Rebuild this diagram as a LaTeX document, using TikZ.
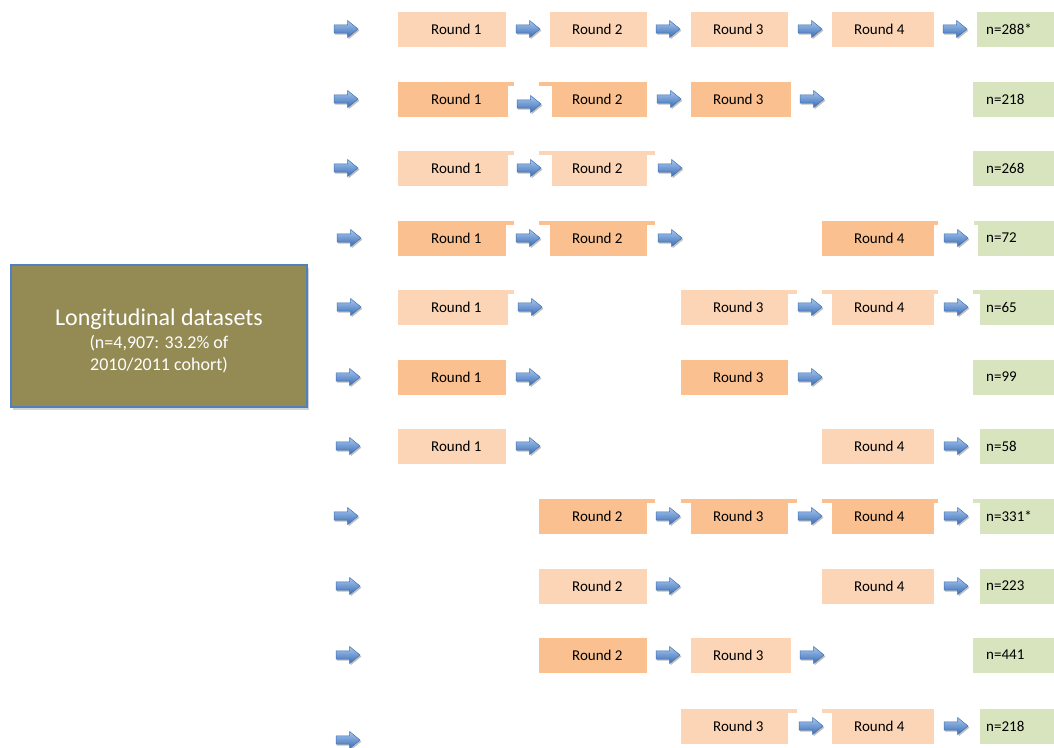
\documentclass[tikz,border=0pt]{standalone}
\usepackage{fontspec}
\setmainfont{Carlito}
\usetikzlibrary{shadows}
\definecolor{lpeach}{HTML}{FBD5B5}
\definecolor{dpeach}{HTML}{FAC090}
\definecolor{ngreen}{HTML}{D7E4BD}
\definecolor{olivebox}{HTML}{948A54}
\definecolor{oblue}{HTML}{4F81BD}
\definecolor{arrtop}{HTML}{A8C8F0}
\definecolor{arrmid}{HTML}{5A8FD6}
\definecolor{arrbot}{HTML}{3A6CB4}
\definecolor{arredge}{HTML}{3E70B2}
\tikzset{
  rbox/.style={draw=none, minimum height=35pt, inner xsep=0pt, inner ysep=0pt, anchor=west, font=\fontsize{15}{18}\selectfont},
  lightbox/.style={rbox, fill=lpeach},
  darkbox/.style={rbox, fill=dpeach},
  nboxst/.style={rbox, fill=ngreen},
}
% round box: style, name, x1, x2, y, text, text-left
\newcommand\rb[7]{%
  \pgfmathsetmacro\bw{#4-#3}\pgfmathsetmacro\bo{#7-#3}%
  \node[#1] (#2) at (#3,#5) {\makebox[\bw pt][l]{\hspace*{\bo pt}#6}};}
% n box: name, x1, y, text
\newcommand\nb[4]{%
  \pgfmathsetmacro\bw{1054-#2}\pgfmathsetmacro\bo{986-#2}%
  \node[nboxst] (#1) at (#2,#3) {\makebox[\bw pt][l]{\hspace*{\bo pt}#4}};}
% white frame behind an arrow: x1, x2, row y
\newcommand\wf[3]{\fill[white] (#1,#3-13.5) rectangle (#2,#3+19);}
% block arrow: left x, centre y
\newcommand\ba[2]{%
  \begin{scope}[shift={(#1,#2)}]
    \fill[black,opacity=.25] (1.2,-2.5) -- (14.7,-2.5) -- (14.7,-7) -- (25.4,1.6) -- (14.7,10.2) -- (14.7,5.7) -- (1.2,5.7) -- cycle;
    \shade[top color=arrtop, middle color=arrmid, bottom color=arrbot, draw=arredge, line width=.5pt]
      (0,-4.1) -- (13.5,-4.1) -- (13.5,-8.6) -- (24,0) -- (13.5,8.6) -- (13.5,4.1) -- (0,4.1) -- cycle;
  \end{scope}}
\begin{document}
\begin{tikzpicture}[x=1pt,y=-1pt]
\useasboundingbox (0,0) rectangle (1054,747);
% main box
\node[draw=oblue, line width=1.6pt, fill=olivebox, minimum width=296pt, minimum height=142pt,
      drop shadow={opacity=.35, shadow xshift=2pt, shadow yshift=-2.5pt}] (main) at (159,336) {};
\node[text=white, align=center, font=\fontsize{18}{22}\selectfont, inner sep=0pt] (maintext) at (159,341)
  {{\fontsize{24}{25}\selectfont Longitudinal datasets}\\[1pt](n=4,907: 33.2\% of\\2010/2011 cohort)};
% row 1
\rb{lightbox}{r1a}{398}{506}{29}{Round 1}{431}
\rb{lightbox}{r1b}{550}{647}{29}{Round 2}{572}
\rb{lightbox}{r1c}{691}{788}{29}{Round 3}{713}
\rb{lightbox}{r1d}{832}{934}{29}{Round 4}{854}
\nb{n1}{977}{29}{n=288*}
\ba{334}{29}\ba{516}{29}\ba{656}{29}\ba{798}{29}\ba{943}{29}
% row 2
\rb{darkbox}{r2a}{398}{514}{99}{Round 1}{431}
\rb{darkbox}{r2b}{539}{647}{99}{Round 2}{572}
\rb{darkbox}{r2c}{691}{791}{99}{Round 3}{713}
\nb{n2}{973}{99}{n=218}
\wf{508}{552}{99}
\ba{334}{99}\ba{517}{104}\ba{657}{99}\ba{800}{99}
% row 3
\rb{lightbox}{r3a}{398}{514}{168}{Round 1}{431}
\rb{lightbox}{r3b}{539}{655}{168}{Round 2}{572}
\nb{n3}{973}{168}{n=268}
\wf{508}{552}{168}\wf{647}{700}{168}
\ba{334}{168}\ba{517}{168}\ba{658}{168}
% row 4
\rb{darkbox}{r4a}{398}{514}{238}{Round 1}{431}
\rb{darkbox}{r4b}{539}{655}{238}{Round 2}{572}
\rb{darkbox}{r4d}{822}{938}{238}{Round 4}{854}
\nb{n4}{974}{238}{n=72}
\wf{506}{550}{238}\wf{647}{700}{238}\wf{934}{978}{238}
\ba{337}{238}\ba{516}{238}\ba{658}{238}\ba{944}{238}
% row 5
\rb{lightbox}{r5a}{398}{514}{307}{Round 1}{431}
\rb{lightbox}{r5c}{681}{797}{307}{Round 3}{713}
\rb{lightbox}{r5d}{822}{938}{307}{Round 4}{854}
\nb{n5}{973}{307}{n=65}
\wf{508}{560}{307}\wf{788}{832}{307}\wf{934}{980}{307}
\ba{337}{307}\ba{518}{307}\ba{798}{307}\ba{944}{307}
% row 6
\rb{darkbox}{r6a}{398}{506}{377}{Round 1}{431}
\rb{darkbox}{r6c}{681}{788}{377}{Round 3}{713}
\nb{n6}{973}{377}{n=99}
\ba{336}{377}\ba{516}{377}\ba{798}{377}
% row 7
\rb{lightbox}{r7a}{398}{506}{446}{Round 1}{431}
\rb{lightbox}{r7d}{822}{934}{446}{Round 4}{854}
\nb{n7}{980}{446}{n=58}
\ba{336}{446}\ba{516}{446}\ba{944}{446}
% row 8
\rb{darkbox}{r8b}{539}{655}{516}{Round 2}{572}
\rb{darkbox}{r8c}{681}{797}{516}{Round 3}{713}
\rb{darkbox}{r8d}{822}{938}{516}{Round 4}{854}
\nb{n8}{973}{516}{n=331*}
\wf{647}{691}{516}\wf{788}{832}{516}\wf{934}{980}{516}
\ba{334}{516}\ba{656}{516}\ba{798}{516}\ba{944}{516}
% row 9
\rb{lightbox}{r9b}{539}{647}{586}{Round 2}{572}
\rb{lightbox}{r9d}{822}{934}{586}{Round 4}{854}
\nb{n9}{980}{586}{n=223}
\ba{336}{586}\ba{656}{586}\ba{944}{586}
% row 10
\rb{darkbox}{r10b}{539}{647}{655}{Round 2}{572}
\rb{lightbox}{r10c}{691}{791}{655}{Round 3}{713}
\nb{n10}{973}{655}{n=441}
\ba{336}{655}\ba{656}{655}\ba{800}{655}
% row 11
\rb{lightbox}{r11c}{681}{797}{726}{Round 3}{713}
\rb{lightbox}{r11d}{822}{934}{726}{Round 4}{854}
\nb{n11}{980}{726}{n=218}
\wf{788}{832}{726}
\ba{336}{740}\ba{799}{726}\ba{944}{726}
\end{tikzpicture}
\end{document}
